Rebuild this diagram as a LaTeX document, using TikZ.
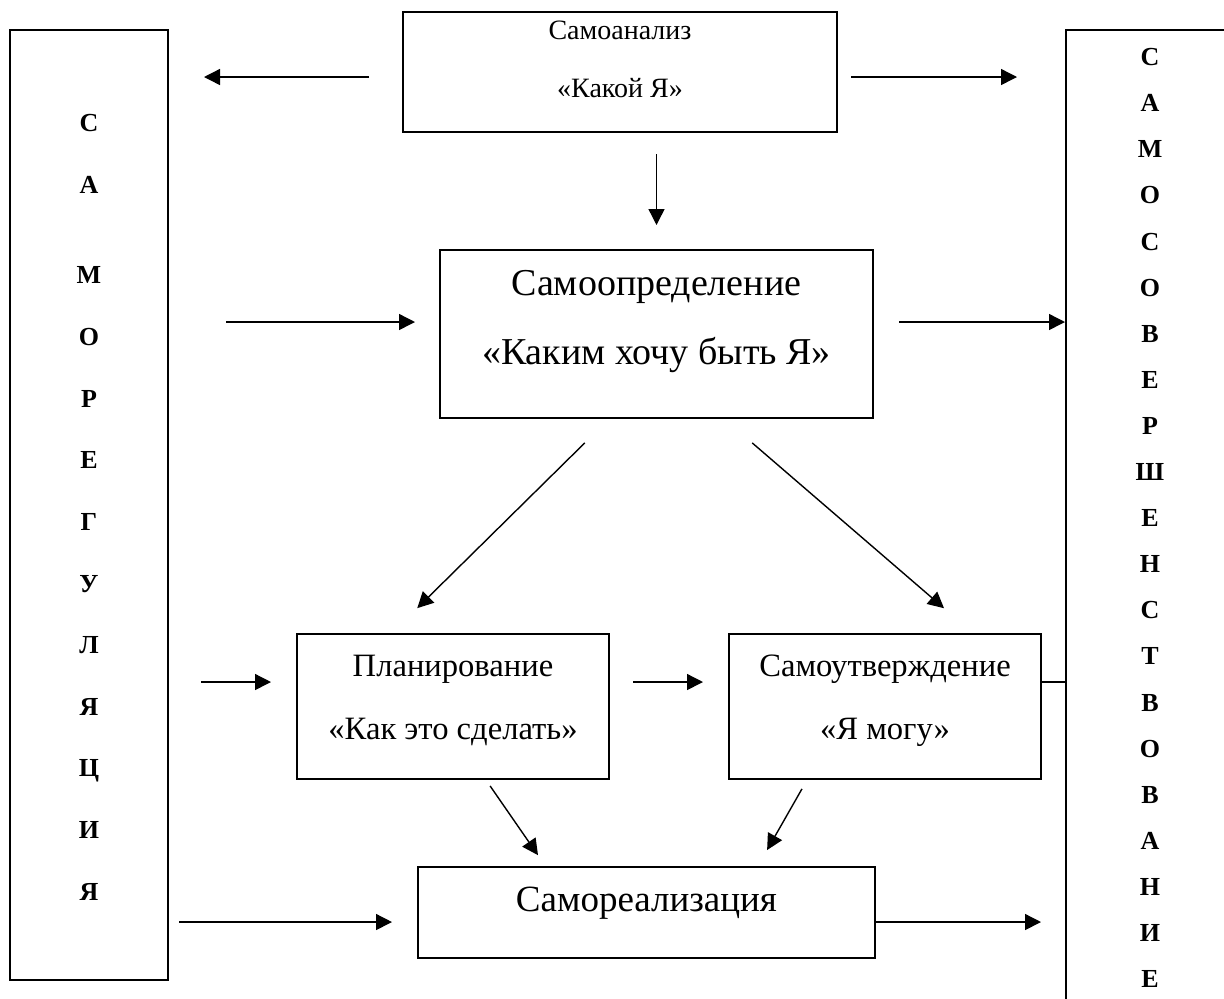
\documentclass[tikz,border=0pt]{standalone}
\usepackage{fontspec}
\setmainfont{Liberation Serif}
\usetikzlibrary{arrows.meta}
\tikzstyle{block} = [rectangle, draw=black, line width=1pt, inner sep=0pt]
\tikzstyle{txt} = [align=center, inner sep=0pt]
\tikzstyle{letter} = [inner sep=0pt, text height=8.6pt, text depth=0pt, font=\fontsize{13}{13}\selectfont\bfseries]
\tikzstyle{arrow} = [line width=0.7pt, -{Triangle[length=8pt,width=8pt]}]
\tikzstyle{link} = [line width=0.7pt]

\begin{document}
\begin{tikzpicture}[x=0.5pt, y=-0.5pt]
\useasboundingbox (0,0) rectangle (1224,998);
\clip (0,0) rectangle (1224,998);
% blocks
\node (reg) [block, minimum width=79pt, minimum height=475pt] at (89,505) {};
\node (sov) [block, minimum width=84pt, minimum height=500pt] at (1150,530) {};
\node (analiz) [block, minimum width=217pt, minimum height=60pt] at (620,72) {};
\node (opr) [block, minimum width=216.5pt, minimum height=84pt] at (656.5,334) {};
\node (plan) [block, minimum width=156pt, minimum height=72.5pt] at (453,706.5) {};
\node (utv) [block, minimum width=156pt, minimum height=72.5pt] at (885,706.5) {};
\node (real) [block, minimum width=228.5pt, minimum height=45.5pt] at (646.5,912.5) {};
% texts
\node (analiz-t) [txt, font=\fontsize{14}{29}\selectfont] at (620,59) {Самоанализ\\«Какой Я»};
\node (opr-t) [txt, font=\fontsize{19}{34.5}\selectfont] at (656.5,322) {Самоопределение\\«Каким хочу быть Я»};
\node (plan-t) [txt, font=\fontsize{16.3}{31.5}\selectfont] at (453,700.5) {Планирование\\«Как это сделать»};
\node (utv-t) [txt, font=\fontsize{16.3}{31.5}\selectfont] at (885,700.5) {Самоутверждение\\«Я могу»};
\node (real-t) [txt, font=\fontsize{18.5}{18.5}\selectfont] at (646.5,903) {Самореализация};
% vertical words
\foreach \ch/\yy [count=\i] in {С/123, А/185, М/275, О/337, Р/399, Е/460, Г/522, У/584, Л/645, Я/707, Ц/768, И/830, Я/892}
  \node (reg\i) [letter] at (89,\yy) {\ch};
\foreach \ch [count=\i] in {С,А,М,О,С,О,В,Е,Р,Ш,Е,Н,С,Т,В,О,В,А,Н,И,Е}
  \node (sov\i) [letter] at (1150,{57+46.1*(\i-1)}) {\ch};
% arrows
\draw [arrow, shorten <=16.5pt, shorten >=17.5pt] ([yshift=-2.5pt]analiz.west) -- ([yshift=-2.5pt]analiz.west -| reg.east);
\draw [arrow, shorten <=6.5pt, shorten >=24pt] ([yshift=-2.5pt]analiz.east) -- ([yshift=-2.5pt]analiz.east -| sov.west);
\draw [arrow, shorten <=10.5pt, shorten >=12pt] (opr.north |- analiz.south) -- (opr.north);
\draw [arrow, shorten <=28.5pt, shorten >=12pt] ([yshift=6pt]opr.west -| reg.east) -- ([yshift=6pt]opr.west);
\draw [arrow, shorten <=12.5pt] ([yshift=6pt]opr.east) -- ([yshift=6pt]opr.east -| sov.west);
\draw [arrow, shorten <=17pt, shorten >=17.7pt] ([xshift=-23.75pt]opr.south) -- ([xshift=-30.5pt]plan.north);
\draw [arrow, shorten <=18.3pt, shorten >=19pt] ([xshift=34pt]opr.south) -- ([xshift=43.9pt]utv.north);
\draw [arrow, shorten <=16pt, shorten >=12.5pt] ([yshift=12.25pt]plan.west -| reg.east) -- ([yshift=12.25pt]plan.west);
\draw [arrow, shorten <=11.5pt, shorten >=12.5pt] ([yshift=12.25pt]plan.east) -- ([yshift=12.25pt]utv.west);
\draw [link] ([yshift=12.25pt]utv.east) -- ([yshift=12.25pt]utv.east -| sov.west);
\draw [arrow, shorten <=3.6pt, shorten >=6.6pt] ([xshift=16.5pt]plan.south) -- ([xshift=-50.5pt]real.north);
\draw [arrow, shorten <=5.1pt, shorten >=9.2pt] ([xshift=-39pt]utv.south) -- ([xshift=55.75pt]real.north);
\draw [arrow, shorten <=5pt, shorten >=12.5pt] ([yshift=-4.75pt]real.west -| reg.east) -- ([yshift=-4.75pt]real.west);
\draw [arrow, shorten >=12pt] ([yshift=-4.75pt]real.east) -- ([yshift=-4.75pt]real.east -| sov.west);
\end{tikzpicture}
\end{document}
